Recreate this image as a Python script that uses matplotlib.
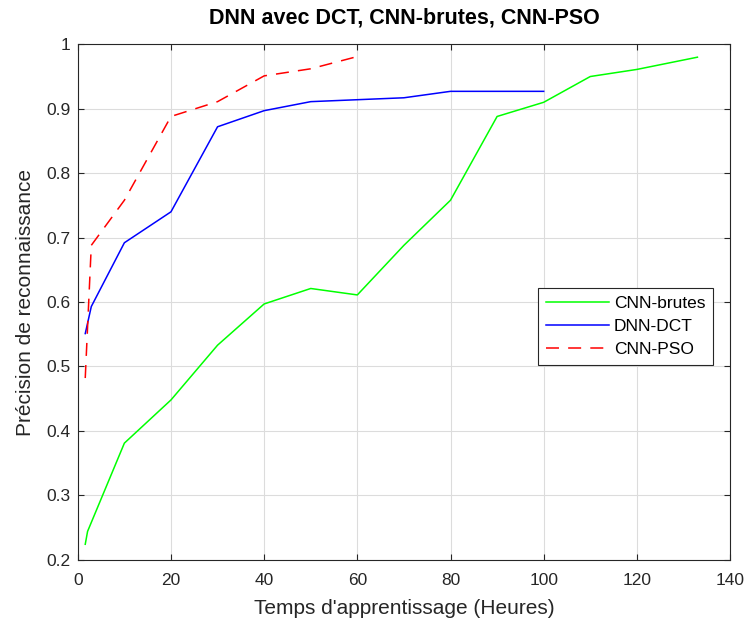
import matplotlib
matplotlib.use("Agg")
import matplotlib.pyplot as plt
from matplotlib.ticker import FuncFormatter

plt.rcParams['font.family'] = ['Liberation Sans', 'DejaVu Sans']

x_brutes = [1.6, 2.1, 10, 20, 30, 40, 50, 60, 70, 80, 90, 100, 110, 120, 133]
y_brutes = [0.224, 0.244, 0.381, 0.448, 0.533, 0.597, 0.621, 0.611, 0.688, 0.758, 0.888, 0.910, 0.950, 0.961, 0.980]

x_dct = [1.6, 2.9, 10, 20, 30, 40, 50, 60, 70, 80, 90, 100]
y_dct = [0.551, 0.593, 0.692, 0.740, 0.872, 0.897, 0.911, 0.914, 0.917, 0.927, 0.927, 0.927]

x_pso = [1.6, 2.9, 10, 20, 30, 40, 50, 60]
y_pso = [0.482, 0.688, 0.758, 0.888, 0.911, 0.951, 0.962, 0.981]

labels = ['CNN-brutes', 'DNN-DCT', 'CNN-PSO']
title = 'DNN avec DCT, CNN-brutes, CNN-PSO'
xlabel = "Temps d'apprentissage (Heures)"
ylabel = 'Précision de reconnaissance'
xticks = [0, 20, 40, 60, 80, 100, 120, 140]
yticks = [0.2, 0.3, 0.4, 0.5, 0.6, 0.7, 0.8, 0.9, 1.0]

fig = plt.figure(figsize=(7.48, 6.24), dpi=100)
ax = fig.add_axes([0.104, 0.103, 0.872, 0.826])

ax.plot(x_brutes, y_brutes, color='#00ff00', lw=1.1, label=labels[0])
ax.plot(x_dct, y_dct, color='#0000ff', lw=1.1, label=labels[1])
ax.plot(x_pso, y_pso, color='#ff0000', lw=1.1, ls=(0, (8.5, 6)), label=labels[2])

ax.set_xlim(0, 140)
ax.set_ylim(0.2, 1.0)
ax.set_xticks(xticks)
ax.set_yticks(yticks)
ax.yaxis.set_major_formatter(FuncFormatter(lambda v, p: ('%g' % round(v, 2))))
ax.grid(True, color='#dcdcdc', lw=0.8)
ax.set_axisbelow(True)
ax.tick_params(direction='in', top=True, right=True, labelsize=12.5, colors='#262626', length=4)
ax.tick_params(axis='x', pad=9.5)
ax.tick_params(axis='y', pad=5)
for s in ax.spines.values():
    s.set_color('#262626')
    s.set_linewidth(0.8)

ax.set_title(title, fontsize=15.5, fontweight='bold', pad=15)
ax.set_xlabel(xlabel, fontsize=15, color='#262626', labelpad=8)
ax.set_ylabel(ylabel, fontsize=15, color='#262626', labelpad=8)

leg = ax.legend(loc='upper left', bbox_to_anchor=(0.706, 0.527), fontsize=12.5,
                frameon=True, fancybox=False, edgecolor='#262626', framealpha=1,
                handlelength=3.6, borderpad=0.45, labelspacing=0.45, handletextpad=0.3,
                borderaxespad=0)
leg.get_frame().set_linewidth(0.8)

fig.savefig('out.png', dpi=100)
